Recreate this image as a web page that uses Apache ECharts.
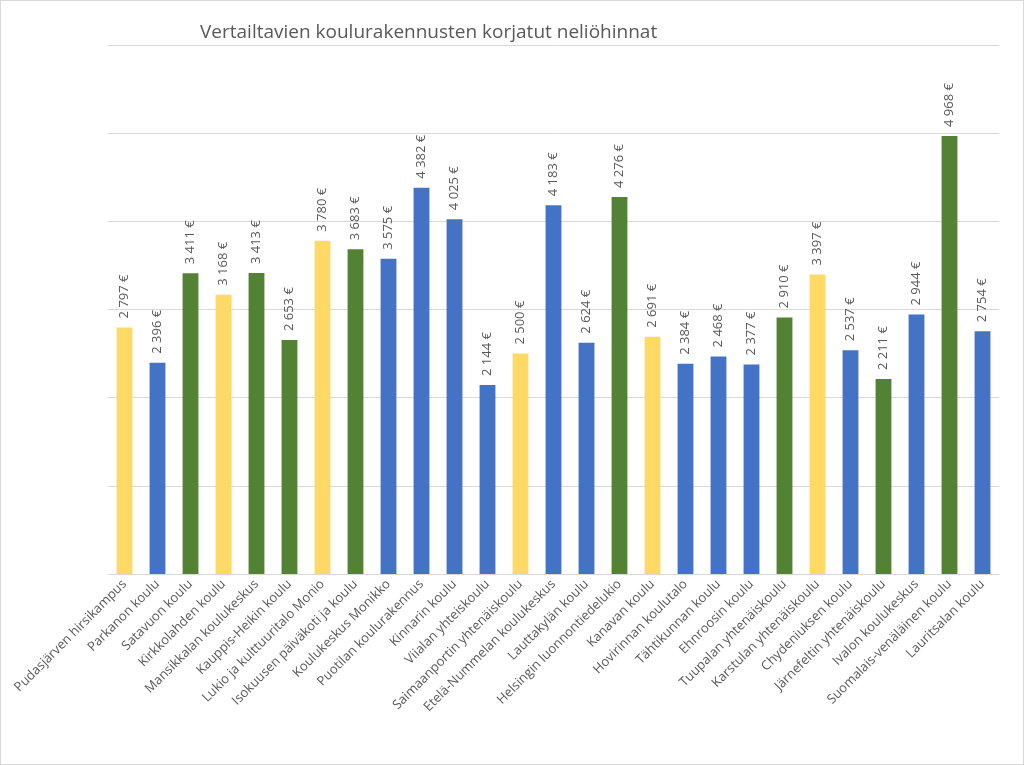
<!DOCTYPE html>
<html>
<head>
<meta charset="utf-8">
<script src="https://cdn.jsdelivr.net/npm/echarts@6/dist/echarts.min.js"></script>
<style>
html,body{margin:0;padding:0;background:#fff;}
#chart{width:1024px;height:765px;box-sizing:border-box;border:1px solid #d9d9d9;}
</style>
</head>
<body>
<div id="chart"></div>
<script>
const categories = ["Pudasjärven hirsikampus","Parkanon koulu","Satavuon koulu","Kirkkolahden koulu","Mansikkalan koulukeskus","Kauppis-Heikin koulu","Lukio ja kulttuuritalo Monio","Isokuusen päiväkoti ja koulu","Koulukeskus Monikko","Puotilan koulurakennus","Kinnarin koulu","Viialan yhteiskoulu","Saimaanportin yhtenäiskoulu","Etelä-Nummelan koulukeskus","Lauttakylän koulu","Helsingin luonnontiedelukio","Kanavan koulu","Hovirinnan koulutalo","Tähtikunnan koulu","Ehnroosin koulu","Tuupalan yhtenäiskoulu","Karstulan yhtenäiskoulu","Chydeniuksen koulu","Järnefeltin yhtenäiskoulu","Ivalon koulukeskus","Suomalais-venäläinen koulu","Lauritsalan koulu"];
const values = [2797,2396,3411,3168,3413,2653,3780,3683,3575,4382,4025,2144,2500,4183,2624,4276,2691,2384,2468,2377,2910,3397,2537,2211,2944,4968,2754];
const groups = ["y","b","g","y","g","g","y","g","b","b","b","b","y","b","b","g","y","b","b","b","g","y","b","g","b","g","b"];
const palette = {y:"#FFD966", b:"#4472C4", g:"#548235"};

const fmt = v => String(v).replace(/\B(?=(\d{3})+(?!\d))/g, " ") + " €";
const chart = echarts.init(document.getElementById('chart'));
chart.setOption({
  animation:false,
  title:{text:"Vertailtavien koulurakennusten korjatut neliöhinnat", left:194, top:17,
    textStyle:{fontFamily:"Open Sans", fontSize:19, fontWeight:"normal", color:"#595959"}},
  grid:{left:107, right:24, top:44, bottom:190},
  xAxis:{type:"category", data:categories,
    axisLine:{lineStyle:{color:"#d9d9d9"}}, axisTick:{show:false},
    axisLabel:{rotate:45, interval:0, fontFamily:"Open Sans", fontSize:13, color:"#595959", margin:8}},
  yAxis:{type:"value", min:0, max:6000, interval:1000,
    axisLabel:{show:false}, axisLine:{show:false}, axisTick:{show:false},
    splitLine:{show:true, showMinLine:true, showMaxLine:true, lineStyle:{color:"#d9d9d9"}}},
  series:[{type:"bar", barWidth:"48%",
    data: values.map((v,i)=>({value:v, itemStyle:{color:palette[groups[i]]}})),
    label:{show:true, position:"top", rotate:90, align:"left", verticalAlign:"middle", distance:9,
      fontFamily:"Open Sans", fontSize:13, color:"#595959", formatter:p=>fmt(p.value)}}]
});
</script>
</body>
</html>
